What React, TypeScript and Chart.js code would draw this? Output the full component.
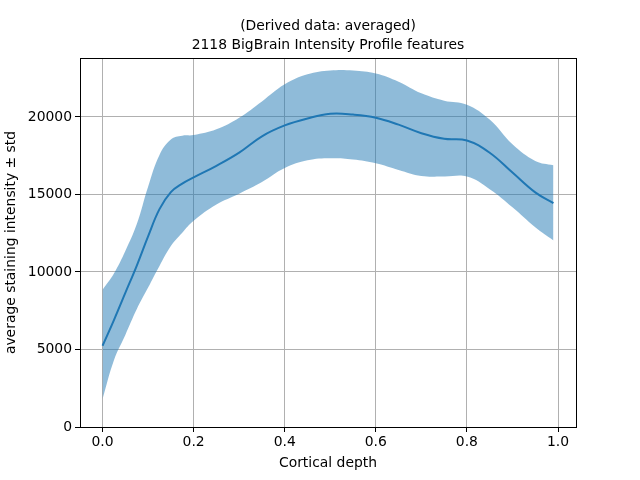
import React, { useEffect, useRef } from "react";
import { Chart, registerables } from "chart.js";

Chart.register(...registerables);

const depth = [0, 0.025, 0.05, 0.075, 0.1, 0.125, 0.15, 0.175, 0.2, 0.25, 0.3, 0.35, 0.4, 0.45, 0.5, 0.55, 0.6, 0.65, 0.7, 0.75, 0.8, 0.85, 0.9, 0.95, 0.99];
const meanValues = [5240, 6900, 8650, 10400, 12300, 14050, 15150, 15700, 16100, 16850, 17700, 18750, 19450, 19900, 20200, 20150, 19950, 19500, 18950, 18590, 18480, 17690, 16410, 15130, 14440];
const upperValues = [8850, 9900, 11350, 13070, 15500, 17550, 18550, 18790, 18830, 19200, 19950, 21000, 22100, 22750, 23000, 23000, 22800, 22270, 21520, 21050, 20790, 19830, 18230, 17160, 16880];
const lowerValues = [1800, 4300, 5930, 7590, 8990, 10390, 11670, 12530, 13300, 14350, 15050, 15800, 16700, 17200, 17330, 17250, 17010, 16580, 16190, 16150, 16150, 15340, 14170, 12880, 12030];
const xTicks = [0, 0.2, 0.4, 0.6, 0.8, 1.0];
const yTicks = [0, 5000, 10000, 15000, 20000];
const titleLines = ["(Derived data: averaged)", "2118 BigBrain Intensity Profile features"];
const xLabel = "Cortical depth";
const yLabel = "average staining intensity ± std";

const FONT = "'DejaVu Sans', sans-serif";
const FS = 13.9;

export default function App() {
  const ref = useRef<HTMLCanvasElement | null>(null);
  useEffect(() => {
    document.body.style.margin = "0";
    const canvas = ref.current!;
    const pts = (ys: number[]) => depth.map((x, i) => ({ x, y: ys[i] }));
    const framePlugin = {
      id: "frame",
      afterDatasetsDraw(chart: any) {
        const { ctx, chartArea } = chart;
        ctx.save();
        ctx.strokeStyle = "#000";
        ctx.lineWidth = 1;
        ctx.strokeRect(Math.round(chartArea.left) + 0.5, Math.round(chartArea.top) + 0.5, Math.round(chartArea.right - chartArea.left), Math.round(chartArea.bottom - chartArea.top));
        ctx.fillStyle = "#000";
        ctx.font = `${FS}px ${FONT}`;
        ctx.textAlign = "center";
        ctx.textBaseline = "middle";
        const cx = (chartArea.left + chartArea.right) / 2;
        ctx.fillText(titleLines[0], cx, 26);
        ctx.fillText(titleLines[1], cx, 45);
        ctx.restore();
      },
    };
    const common = { pointRadius: 0, tension: 0.4, cubicInterpolationMode: "default" };
    const chart = new Chart(canvas, {
      type: "line",
      data: {
        datasets: [
          {
            ...common,
            data: pts(upperValues),
            borderWidth: 0,
            backgroundColor: "rgba(31,119,180,0.5)",
            fill: "+1",
          } as any,
          {
            ...common,
            data: pts(lowerValues),
            borderWidth: 0,
            backgroundColor: "rgba(31,119,180,0.5)",
            fill: false,
          },
          {
            ...common,
            data: pts(meanValues),
            borderColor: "#1f77b4",
            borderWidth: 2,
            fill: false,
          },
        ],
      },
      options: {
        animation: false,
        responsive: false,
        layout: { padding: { top: 58, right: 64, left: 0, bottom: 0 } },
        plugins: { legend: { display: false }, tooltip: { enabled: false }, title: { display: false } },
        scales: {
          x: {
            type: "linear",
            min: -0.0495,
            max: 1.0395,
            afterBuildTicks: (s: any) => { s.ticks = xTicks.map((v) => ({ value: v })); },
            afterFit: (s: any) => { s.height = 53; },
            grid: { color: "#b0b0b0", lineWidth: 1, tickColor: "#000", tickLength: 5 },
            border: { color: "#000", width: 1 },
            ticks: { color: "#000", font: { family: FONT, size: FS }, padding: 2, maxRotation: 0, callback: (v: any) => Number(v).toFixed(1) },
            title: { display: true, text: xLabel, color: "#000", font: { family: FONT, size: FS }, padding: { top: 0, bottom: 8 } },
          },
          y: {
            type: "linear",
            min: 0,
            max: 23800,
            afterBuildTicks: (s: any) => { s.ticks = yTicks.map((v) => ({ value: v })); },
            afterFit: (s: any) => { s.width = 80; },
            grid: { color: "#b0b0b0", lineWidth: 1, tickColor: "#000", tickLength: 5 },
            border: { color: "#000", width: 1 },
            ticks: { color: "#000", font: { family: FONT, size: FS }, padding: 3, callback: (v: any) => String(v) },
            title: { display: true, text: yLabel, color: "#000", font: { family: FONT, size: FS }, padding: { top: 3, bottom: 0 } },
          },
        },
      },
      plugins: [framePlugin],
    });
    return () => chart.destroy();
  }, []);
  return (
    <div style={{ width: 640, height: 480 }}>
      <canvas ref={ref} width={640} height={480} style={{ display: "block" }} />
    </div>
  );
}
